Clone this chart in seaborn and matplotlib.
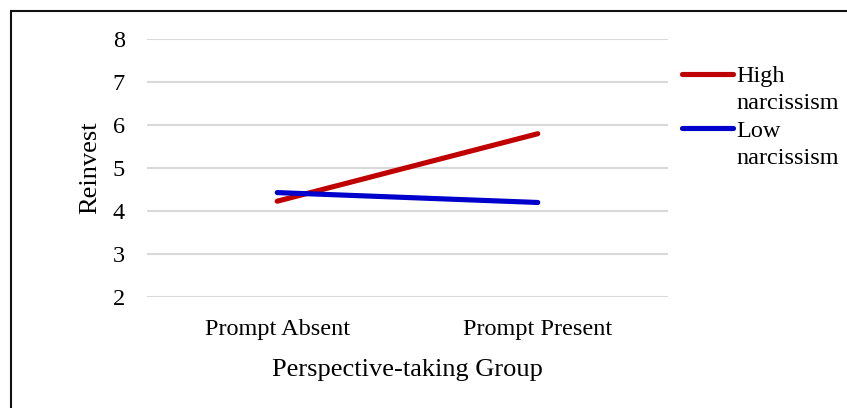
import matplotlib
matplotlib.use("Agg")
import matplotlib.pyplot as plt
from matplotlib.lines import Line2D
from matplotlib.patches import Rectangle
import seaborn as sns
import pandas as pd

groups = ["Prompt Absent", "Prompt Present"]
high_narcissism = [4.23, 5.80]
low_narcissism = [4.43, 4.20]
series_names = ["High narcissism", "Low narcissism"]
y_ticks = [2, 3, 4, 5, 6, 7, 8]

colors = {"High narcissism": "#C00000", "Low narcissism": "#0000CC"}

df = pd.DataFrame({
    "group": groups * 2,
    "pos": [0, 1] * 2,
    "series": [series_names[0]] * 2 + [series_names[1]] * 2,
    "value": high_narcissism + low_narcissism,
})

sns.set_style("white")
plt.rcParams["font.family"] = ["Liberation Serif", "DejaVu Serif"]
plt.rcParams["text.color"] = "black"

W, H = 847, 408
fig = plt.figure(figsize=(W / 100, H / 100), dpi=100)
ax = fig.add_axes([147 / W, 0.272, 521 / W, 0.632])

sns.lineplot(data=df, x="pos", y="value", hue="series", palette=colors,
             linewidth=3.7, sort=False, ax=ax, legend=False,
             solid_capstyle="round")

ax.set_xlim(-0.5, 1.5)
ax.set_ylim(2, 8)
ax.set_xticks([0, 1])
ax.set_xticklabels(groups)
ax.set_yticks(y_ticks)
ax.tick_params(axis="both", length=0, labelsize=17.5, colors="black")
ax.tick_params(axis="x", pad=15.5)
ax.tick_params(axis="y", pad=16)
ax.yaxis.grid(True, color="#D9D9D9", linewidth=1.5)
ax.xaxis.grid(False)
ax.set_axisbelow(True)
for s in ax.spines.values():
    s.set_visible(False)

ax.set_xlabel("Perspective-taking Group", fontsize=19, labelpad=14, color="black")
ax.set_ylabel("Reinvest", fontsize=19, labelpad=8, color="black")

blank = Line2D([], [], color="none")
handles = [
    Line2D([], [], color=colors["High narcissism"], linewidth=3.7, solid_capstyle="round"),
    blank,
    Line2D([], [], color=colors["Low narcissism"], linewidth=3.7, solid_capstyle="round"),
    blank,
]
labels = ["High", "narcissism", "Low", "narcissism"]
leg = ax.legend(handles, labels, loc="upper left",
                bbox_to_anchor=(682 / W, (H - 65) / H),
                bbox_transform=fig.transFigure,
                frameon=False, fontsize=17.5, handlelength=2.1, handletextpad=0.15,
                labelspacing=0.22, borderaxespad=0, borderpad=0)
for t in leg.get_texts():
    t.set_color("black")

# chart frame: left and top edges visible, running off the right and bottom
fig.add_artist(Rectangle((10.5 / W, -0.1), 1.2, (H - 10.5) / H + 0.1,
                         transform=fig.transFigure, fill=False,
                         edgecolor="#111111", linewidth=1.5))

fig.savefig("out.png", dpi=100, facecolor="white")
